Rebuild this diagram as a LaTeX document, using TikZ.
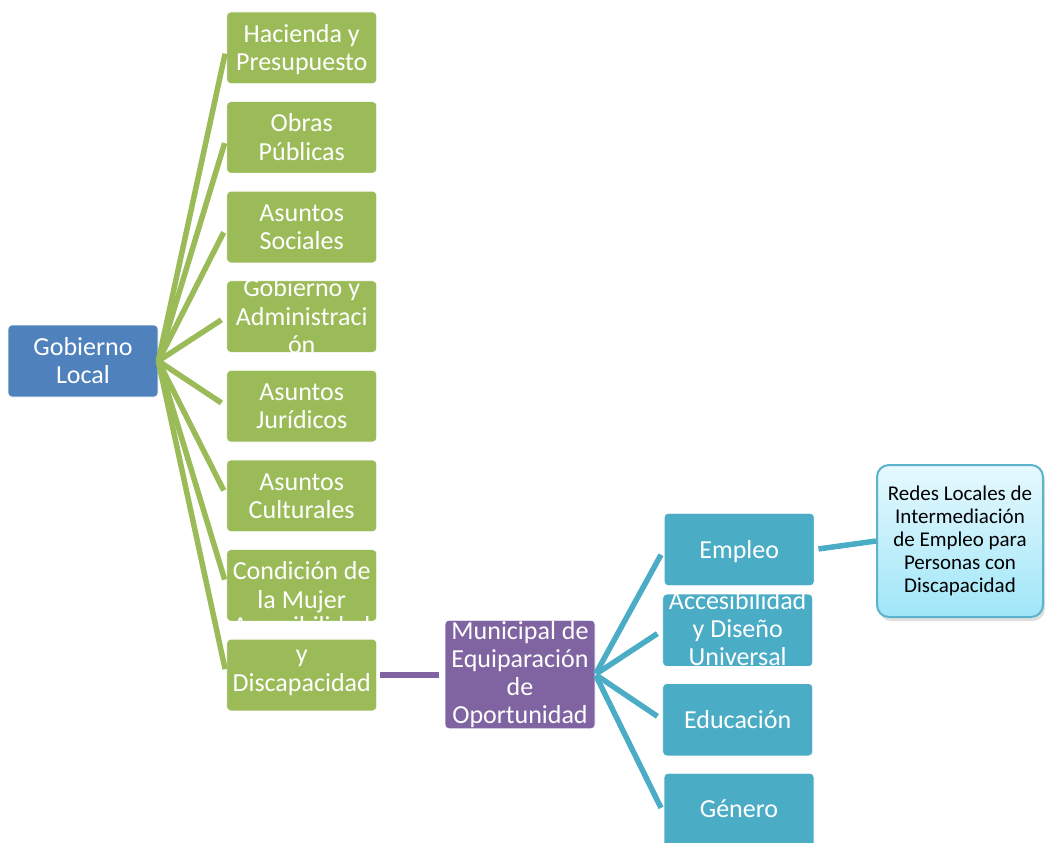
\documentclass[tikz,border=0pt]{standalone}
\usepackage{fontspec}
\setmainfont{Carlito}
\usetikzlibrary{shadows}
\definecolor{gblue}{HTML}{4F81BD}
\definecolor{ggreen}{HTML}{9BBB59}
\definecolor{gpurple}{HTML}{8064A2}
\definecolor{gteal}{HTML}{4BACC6}
\definecolor{rtop}{HTML}{E6F9FE}
\definecolor{rbot}{HTML}{A0E6F8}
\definecolor{rline}{HTML}{5DB3CC}
\begin{document}
\begin{tikzpicture}[x=1pt,y=-1pt,
  box/.style={rectangle, rounded corners=4pt, minimum width=150pt, minimum height=71.6pt, inner sep=0pt, draw=white, line width=0.6pt},
  gbox/.style={box, fill=ggreen},
  tbox/.style={box, fill=gteal},
  wtxt/.style={text=white, font=\fontsize{26}{28.2}\selectfont, align=center, inner sep=0pt, anchor=base},
  btxt/.style={text=black, font=\fontsize{21}{23.2}\selectfont, align=center, inner sep=0pt, anchor=base},
  gline/.style={draw=ggreen, line width=5.5pt, shorten >=6pt},
  pline/.style={draw=gpurple, line width=5.5pt},
  tline/.style={draw=gteal, line width=5.5pt},
]
\useasboundingbox (0,0) rectangle (1045,843);

% boxes
\node[box, fill=gblue, minimum height=72pt] (gob) at (83,361) {};
\node[gbox] (h1) at (301.7,47.8) {};
\node[gbox] (h2) at (301.7,137.4) {};
\node[gbox] (h3) at (301.7,227.0) {};
\node[gbox] (h4) at (301.7,316.6) {};
\node[gbox] (h5) at (301.7,406.2) {};
\node[gbox] (h6) at (301.7,495.8) {};
\node[gbox] (h7) at (301.7,585.4) {};
\node[gbox] (h8) at (301.7,675.0) {};
\node[box, fill=gpurple, minimum height=108.5pt] (pur) at (520,674.5) {};
\node[tbox, minimum height=72.4pt] (e1) at (739.2,549.5) {};
\node[tbox, minimum height=72.4pt] (e2) at (737.7,630.3) {};
\node[tbox, minimum height=72.4pt] (e3) at (737.7,719.7) {};
\node[tbox, minimum height=80pt] (e4) at (739,813.3) {};
\node[rectangle, rounded corners=12pt, minimum width=166pt, minimum height=152pt, inner sep=0pt,
      draw=rline, line width=2pt, top color=rtop, bottom color=rbot,
      drop shadow={shadow xshift=2pt, shadow yshift=-4pt, opacity=0.25}] (redes) at (960,541) {};

% connectors
\foreach \n in {h1,h2,h3,h4,h5,h6,h7,h8}
  \draw[gline] (gob.east) -- (\n.west);
\draw[pline, shorten <=3pt, shorten >=6pt] (h8.east) -- (h8.east -| pur.west);
\foreach \n in {e1,e2,e3,e4}
  \draw[tline, shorten <=1pt, shorten >=6pt] (pur.east) -- (\n.west);
\draw[tline, shorten <=4pt] (e1.east) -- (redes.west);

% texts (anchor = baseline of last line)
\node[wtxt] (tgob) at (83,383.6) {Gobierno\\Local};
\node[wtxt] (th1) at (301.7,70.4) {Hacienda y\\Presupuesto};
\node[wtxt] (th2) at (301.7,160.0) {Obras\\Públicas};
\node[wtxt] (th3) at (301.7,249.6) {Asuntos\\Sociales};
\node[wtxt] (th4) at (301.7,353.3) {Gobierno y\\Administraci\\ón};
\node[wtxt] (th5) at (301.7,428.8) {Asuntos\\Jurídicos};
\node[wtxt] (th6) at (301.7,518.4) {Asuntos\\Culturales};
\node[wtxt] (th7) at (301.7,608.0) {Condición de\\la Mujer};
\node[wtxt] (th8) at (301.7,691.1) {Accesibilidad\\y\\Discapacidad};
\node[wtxt] (tpur) at (520,723.6) {Municipal de\\Equiparación\\de\\Oportunidad};
\node[wtxt] (te1) at (739.2,558) {Empleo};
\node[wtxt] (te2) at (737.7,665.4) {Accesibilidad\\y Diseño\\Universal};
\node[wtxt] (te3) at (737.7,728) {Educación};
\node[wtxt] (te4) at (739,817.5) {Género};
\node[btxt] (tredes) at (960,592.8) {Redes Locales de\\Intermediación\\de Empleo para\\Personas con\\Discapacidad};
\end{tikzpicture}
\end{document}
